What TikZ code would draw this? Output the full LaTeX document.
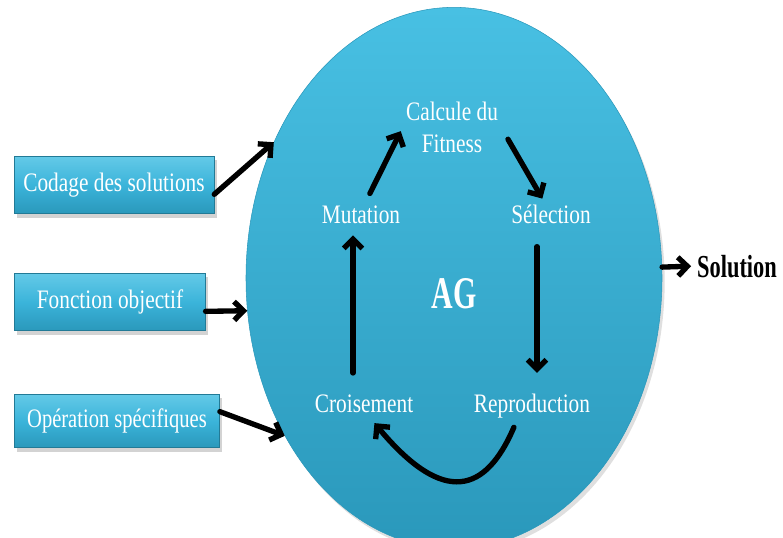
\documentclass[tikz,border=0pt]{standalone}
\usepackage{fontspec}
\usepackage{graphicx}
\setmainfont{Liberation Serif}
\usetikzlibrary{shapes.geometric,shadows,arrows.meta}
\definecolor{ag-top}{HTML}{48C0E3}
\definecolor{ag-bottom}{HTML}{2A98BB}
\definecolor{box-mid}{HTML}{3BB4DA}
\newcommand{\squeezed}[2][0.8]{\scalebox{#1}[1]{#2}}
\tikzset{
    ag-ellipse/.style = {ellipse, draw=ag-bottom, thin, top color=ag-top, bottom color=ag-bottom, minimum width=312pt, minimum height=406pt, drop shadow={opacity=0.25, shadow xshift=2pt, shadow yshift=-3pt}},
    input-box/.style = {rectangle, draw=ag-bottom!80!black, thin, top color=ag-top!85!white, bottom color=ag-bottom, middle color=box-mid, minimum width=150pt, minimum height=43pt, inner sep=0pt, text height=14pt, text depth=4pt, text=white, font=\fontsize{20}{22}\selectfont, drop shadow={opacity=0.35, shadow xshift=2pt, shadow yshift=-3pt}},
    cycle-step/.style = {text=white, font=\fontsize{20}{24}\selectfont},
    cycle-arrow/.style = {-{Straight Barb[length=7pt, width=14pt]}, line width=4pt, line cap=round},
}

\begin{document}
\begin{tikzpicture}[x=0.75pt, y=-0.75pt]
\useasboundingbox (0,0) rectangle (783,537);
\node[ag-ellipse] (ag) at (454,278) {};
\node[text=white, anchor=base, font=\bfseries\fontsize{34}{34}\selectfont] (ag-title) at (454,308) {\squeezed[0.66]{AG}};

\node[cycle-step] (fitness) at (452,130) {\squeezed{\begin{tabular}{@{}c@{}}Calcule du\\Fitness\end{tabular}}};
\node[cycle-step, anchor=base] (mutation) at (361,223) {\squeezed{Mutation}};
\node[cycle-step, anchor=base] (selection) at (551,223) {\squeezed{Sélection}};
\node[cycle-step, anchor=base] (croisement) at (364,412) {\squeezed{Croisement}};
\node[cycle-step, anchor=base] (reproduction) at (532,412) {\squeezed{Reproduction}};

\node[input-box] (codage) at (114,185) {\squeezed{Codage des solutions}};
\node[input-box, minimum width=143pt] (fonction) at (110,302) {\squeezed{Fonction objectif}};
\node[input-box, minimum width=154pt, minimum height=40pt] (operation) at (117,421) {\squeezed[0.77]{Opération spécifiques}};
\node[anchor=base, font=\bfseries\fontsize{24}{24}\selectfont] (solution) at (737,277) {\squeezed[0.7]{Solution}};

\draw[cycle-arrow, shorten <=6pt, shorten >=1pt] ([xshift=4pt]mutation.north) -- (fitness.west);
\draw[cycle-arrow, shorten <=8pt, shorten >=1pt] (fitness.east) -- ([xshift=-6pt]selection.north);
\draw[cycle-arrow, shorten <=14pt, shorten >=12pt] ([xshift=-10.5pt]selection.south) -- ([xshift=3.75pt]reproduction.north);
\draw[cycle-arrow, shorten <=4pt, shorten >=6pt] ([xshift=-12pt]reproduction.south) .. controls +(-30,70) and +(75,90) .. ([xshift=4pt]croisement.south);
\draw[cycle-arrow, shorten <=12.5pt, shorten >=5.5pt] ([xshift=-8.25pt]croisement.north) -- ([xshift=-6pt]mutation.south);

\draw[cycle-arrow] ([yshift=-7pt]codage.east) -- (ag.143);
\draw[cycle-arrow] ([yshift=-7pt]fonction.east) -- (ag.189);
\draw[cycle-arrow] ([yshift=7pt]operation.east) -- (ag.223);
\draw[cycle-arrow, shorten >=1pt] (ag.3) -- (solution.west);
\end{tikzpicture}
\end{document}
